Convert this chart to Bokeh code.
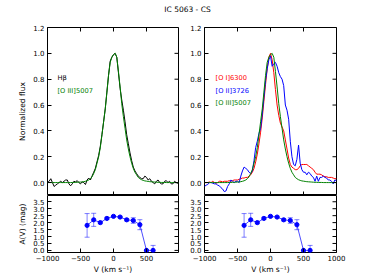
import math
from bokeh.plotting import figure
from bokeh.layouts import column, row
from bokeh.models import (Range1d, FixedTicker, PrintfTickFormatter,
                          Label, Whisker, ColumnDataSource, TeeHead)
from bokeh.embed import file_html
from bokeh.resources import INLINE

FONT = "DejaVu Sans"
FS = "7px"

# ---------------- data ----------------
vel = list(range(-1000, 1001, 25))

hbeta = [0.00, 0.01, 0.03, 0.00, -0.03, -0.02, -0.01, 0.00,
         0.01, 0.00, 0.01, 0.02, 0.02, -0.01, -0.025, -0.01,
         0.01, 0.005, 0.015, 0.00, -0.01, 0.005, 0.00, -0.015,
         0.02, 0.035, 0.02, 0.05, 0.08, 0.11, 0.16, 0.21,
         0.28, 0.37, 0.47, 0.57, 0.70, 0.83, 0.94, 0.97,
         0.99,
         1.00, 0.97, 0.85, 0.73, 0.64, 0.56, 0.47, 0.37,
         0.30, 0.23, 0.17, 0.12, 0.09, 0.07, 0.05, 0.04,
         0.03, 0.03, 0.05, 0.04, 0.02, 0.03, 0.01, 0.00,
         -0.01, 0.01, 0.02, 0.00, -0.01, -0.01, 0.01, 0.015,
         0.00, 0.01, -0.01, -0.01, 0.01, 0.00, -0.005, 0.01]

oiii = [0.0, 0.0, 0.0, 0.0, 0.0, 0.0, 0.0, 0.0,
        0.0, 0.0, 0.0, 0.0, 0.0, 0.0, 0.0, 0.001,
        0.001, 0.002, 0.002, 0.003, 0.004, 0.005, 0.007, 0.01,
        0.014, 0.02, 0.03, 0.045, 0.07, 0.10, 0.15, 0.20,
        0.27, 0.37, 0.47, 0.57, 0.70, 0.83, 0.93, 0.97,
        0.99,
        1.00, 0.97, 0.86, 0.74, 0.61, 0.51, 0.42, 0.33,
        0.26, 0.20, 0.15, 0.11, 0.08, 0.06, 0.04, 0.03,
        0.022, 0.017, 0.013, 0.011, 0.009, 0.007, 0.006, 0.005,
        0.004, 0.003, 0.002, 0.002, 0.001, 0.001, 0.001, 0.0,
        0.0, 0.0, 0.0, 0.0, 0.0, 0.0, 0.0, 0.0]

oi = [0.0, 0.0, 0.0, 0.005, 0.0, 0.01, 0.0, -0.005,
      0.0, 0.01, 0.01, 0.005, 0.01, 0.01, 0.01, 0.015,
      0.01, 0.015, 0.02, 0.02, 0.02, 0.025, 0.03, 0.035,
      0.035, 0.04, 0.04, 0.05, 0.06, 0.08, 0.11, 0.16,
      0.22, 0.30, 0.39, 0.50, 0.63, 0.76, 0.88, 0.97,
      1.00,
      0.95, 0.85, 0.72, 0.60, 0.52, 0.46, 0.43, 0.40,
      0.33, 0.26, 0.19, 0.14, 0.12, 0.11, 0.10, 0.10,
      0.11, 0.13, 0.14, 0.14, 0.14, 0.14, 0.13, 0.12,
      0.11, 0.10, 0.08, 0.065, 0.065, 0.065, 0.06, 0.05,
      0.045, 0.045, 0.04, 0.04, 0.04, 0.035, 0.03, 0.03]

oii = [-0.03, -0.02, -0.015, 0.0, 0.0, -0.005, -0.01, -0.01,
       -0.02, -0.025, -0.04, -0.05, -0.07, -0.065, -0.03, -0.01,
       0.02, 0.01, 0.0, 0.01, 0.01, 0.0, 0.05, 0.09,
       0.12, 0.11, 0.10, 0.08, 0.07, 0.09, 0.17, 0.27,
       0.32, 0.38, 0.42, 0.53, 0.66, 0.79, 0.88, 0.95,
       0.98,
       0.90, 0.92, 0.93, 0.90, 0.85, 0.82, 0.80, 0.75,
       0.60, 0.56, 0.49, 0.32, 0.20, 0.14, 0.13, 0.18,
       0.29, 0.15, 0.10, 0.08, 0.08, 0.06, 0.08, 0.07,
       0.05, 0.04, 0.01, 0.05, 0.01, 0.04, 0.04, 0.05,
       0.04, 0.035, 0.02, 0.02, 0.01, -0.01, 0.02, 0.015]

av_vel = [-400, -300, -200, -100, 0, 100, 200, 300, 400, 500, 600]
av = [1.8, 2.2, 2.0, 2.3, 2.45, 2.4, 2.2, 2.15, 1.85, 0.0, 0.0]
av_err = [0.85, 0.47, 0.08, 0.08, 0.05, 0.05, 0.08, 0.2, 0.36, 0.0, 0.36]

x_ticks = [-1000, -500, 0, 500, 1000]
flux_ticks = [0.0, 0.2, 0.4, 0.6, 0.8, 1.0, 1.2]
av_ticks = [0.0, 0.5, 1.0, 1.5, 2.0, 2.5, 3.0, 3.5]
x_overrides = {-1000: "\u22121000", -500: "\u2212500"}

GREEN = "#008000"
RED = "#ff0000"
BLUE = "#0000ff"

FLUX_R = (-0.1, 1.2)
AV_R = (-0.15, 3.95)


def setup_axis(ax, ticks, fmt=None, overrides=None):
    ax.ticker = FixedTicker(ticks=ticks, minor_ticks=[])
    ax.major_tick_in = 4
    ax.major_tick_out = 0
    ax.minor_tick_in = 0
    ax.minor_tick_out = 0
    ax.major_tick_line_color = "black"
    ax.major_tick_line_width = 1
    ax.axis_line_color = None
    ax.major_label_text_font = FONT
    ax.major_label_text_font_size = FS
    ax.major_label_text_color = "black"
    ax.major_label_standoff = 3
    if fmt is not None:
        ax.formatter = PrintfTickFormatter(format=fmt)
    if overrides:
        ax.major_label_overrides = overrides
    ax.axis_label_text_font = FONT
    ax.axis_label_text_font_size = "7.5px"
    ax.axis_label_text_font_style = "normal"
    ax.axis_label_text_color = "black"
    ax.axis_label_standoff = 3


def make_fig(xr, yr, fw, fh, bl, br, bt, bb, with_x_axis):
    kw = {} if with_x_axis else {"x_axis_type": None}
    p = figure(output_backend="svg", toolbar_location=None,
               x_range=Range1d(*xr), y_range=Range1d(*yr),
               frame_width=fw, frame_height=fh,
               min_border_left=bl, min_border_right=br,
               min_border_top=bt, min_border_bottom=bb, **kw)
    p.grid.visible = False
    p.outline_line_color = "black"
    p.outline_line_width = 1
    p.background_fill_color = "white"
    p.border_fill_color = "white"
    return p


def edge_ticks_x(p, xr, y_edge):
    """inside tick marks along a horizontal frame edge (top/bottom)"""
    xs = [t for t in x_ticks if xr[0] <= t <= xr[1]]
    p.scatter(xs, [y_edge] * len(xs), marker="dash", angle=math.pi / 2,
              size=8, line_color="black", line_width=1)


def edge_ticks_y(p, ticks, x_edge):
    """inside tick marks along the right frame edge"""
    p.scatter([x_edge] * len(ticks), ticks, marker="dash",
              size=8, line_color="black", line_width=1)


# ---------------- top-left ----------------
TL_X = (-1000, 985)
TR_X = (-1000, 1000)

tl = make_fig(TL_X, FLUX_R, 131, 168, 47, 4, 7, 0, False)
setup_axis(tl.yaxis[0], flux_ticks, fmt="%.1f")
tl.yaxis[0].axis_label = "Normalized flux"
tl.line(vel, hbeta, line_color="black", line_width=1)
tl.line(vel, oiii, line_color=GREEN, line_width=1)
edge_ticks_x(tl, TL_X, FLUX_R[1])
edge_ticks_x(tl, TL_X, FLUX_R[0])
edge_ticks_y(tl, flux_ticks, TL_X[1])
tl.add_layout(Label(x=-850, y=0.813, text="H\u03b2", text_color="black",
                    text_font=FONT, text_font_size="6.7px", text_baseline="middle"))
tl.add_layout(Label(x=-850, y=0.712, text="[O III]5007", text_color=GREEN,
                    text_font=FONT, text_font_size="6.7px", text_baseline="middle"))

# ---------------- top-right ----------------
tr = make_fig(TR_X, FLUX_R, 132, 168, 22, 10, 7, 0, False)
setup_axis(tr.yaxis[0], flux_ticks, fmt="%.1f")
tr.line(vel, oi, line_color=RED, line_width=1)
tr.line(vel, oii, line_color=BLUE, line_width=1)
tr.line(vel, oiii, line_color=GREEN, line_width=1)
edge_ticks_x(tr, TR_X, FLUX_R[1])
edge_ticks_x(tr, TR_X, FLUX_R[0])
edge_ticks_y(tr, flux_ticks, TR_X[1])
for yy, txt, col in [(0.813, "[O I]6300", RED), (0.712, "[O II]3726", BLUE),
                     (0.616, "[O III]5007", GREEN)]:
    tr.add_layout(Label(x=-833, y=yy, text=txt, text_color=col, text_font=FONT,
                        text_font_size="6.7px", text_baseline="middle"))

# ---------------- bottom panels ----------------
av_src_data = dict(x=av_vel, y=av,
                   upper=[a + e for a, e in zip(av, av_err)],
                   lower=[a - e for a, e in zip(av, av_err)])


def bottom(xr, fw, bl, br, ylabel):
    p = make_fig(xr, AV_R, fw, 57, bl, br, 0, 22, True)
    setup_axis(p.xaxis[0], x_ticks, overrides=x_overrides)
    p.xaxis[0].major_label_standoff = 2
    p.xaxis[0].axis_label = "V (km s\u207b\u00b9)"
    p.xaxis[0].axis_label_standoff = 1
    setup_axis(p.yaxis[0], av_ticks, fmt="%.1f")
    if ylabel:
        p.yaxis[0].axis_label = ylabel
    edge_ticks_y(p, av_ticks, xr[1])
    src = ColumnDataSource(av_src_data)
    p.add_layout(Whisker(base="x", upper="upper", lower="lower", source=src,
                         line_color=BLUE, line_alpha=0.5, line_width=1,
                         upper_head=TeeHead(size=5, line_color=BLUE, line_alpha=0.5),
                         lower_head=TeeHead(size=5, line_color=BLUE, line_alpha=0.5)))
    p.line("x", "y", source=src, line_color=BLUE, line_alpha=0.7, line_width=1)
    p.scatter("x", "y", source=src, size=4.2, fill_color=BLUE, line_color=BLUE)
    return p


bl_fig = bottom(TL_X, 131, 47, 4, "A(V) (mag)")
br_fig = bottom(TR_X, 132, 22, 10, None)

# ---------------- title ----------------
TW = 47 + 131 + 4 + 22 + 132 + 10
title_fig = figure(output_backend="svg", toolbar_location=None, width=TW, height=20,
                   x_range=Range1d(0, TW), y_range=Range1d(0, 20),
                   x_axis_type=None, y_axis_type=None, min_border=0)
title_fig.grid.visible = False
title_fig.outline_line_color = None
title_fig.add_layout(Label(x=187, y=11.5, text="IC 5063 - CS", text_font=FONT,
                           text_font_size="7.5px", text_color="black",
                           text_align="center", text_baseline="middle"))

layout = column(title_fig,
                row(column(tl, bl_fig), column(tr, br_fig)))

open("out.html", "w").write(file_html(layout, INLINE))
